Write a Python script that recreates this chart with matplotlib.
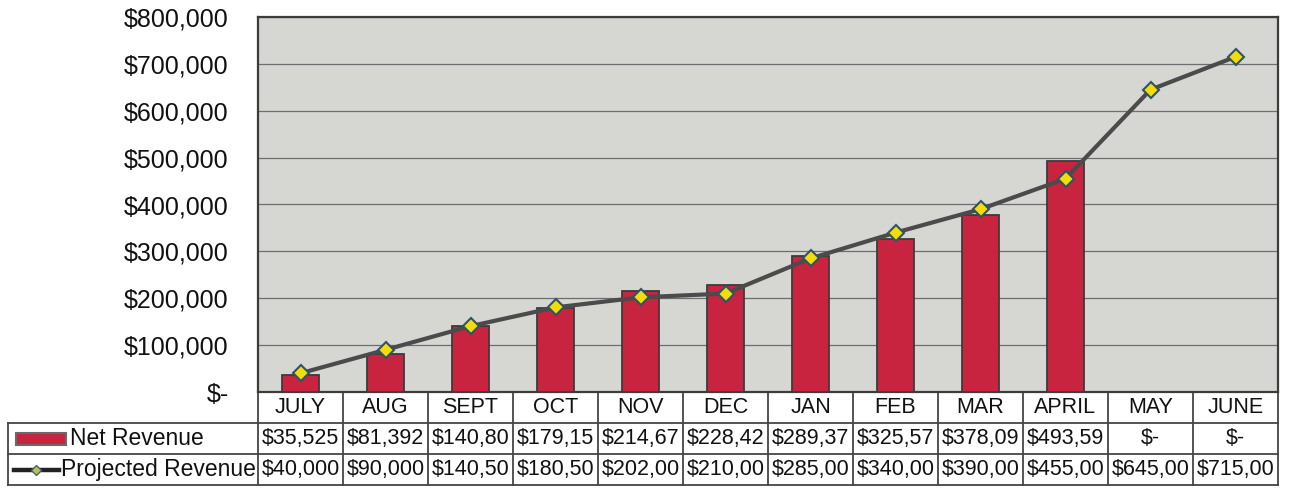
import numpy as np
import matplotlib
matplotlib.use("Agg")
import matplotlib.pyplot as plt
from matplotlib.ticker import FuncFormatter
from matplotlib.patches import Rectangle
from matplotlib.lines import Line2D

plt.rcParams['font.family'] = ['Liberation Sans', 'DejaVu Sans']

months = ['JULY', 'AUG', 'SEPT', 'OCT', 'NOV', 'DEC', 'JAN', 'FEB', 'MAR', 'APRIL', 'MAY', 'JUNE']
net_revenue = [35525, 81392, 140800, 179150, 214670, 228420, 289370, 325570, 378090, 493590, 0, 0]
projected_revenue = [40000, 90000, 140500, 180500, 202000, 210000, 285000, 340000, 390000, 455000, 645000, 715000]
series_names = ['Net Revenue', 'Projected Revenue']

BAR_COLOR = '#c8233f'
EDGE = '#3c3c3c'
LINE_COLOR = '#4b4b4b'
MARK_FACE = '#f2dc0a'
MARK_EDGE = '#2f5466'
TXT = '#111111'


def money(v):
    # excel cells were too narrow, so values get cut at 7 chars
    if v == 0:
        return '$-'
    return ('$' + format(int(v), ',d'))[:7]


fig = plt.figure(figsize=(12.89, 4.95), dpi=100)
ax = fig.add_axes([258 / 1289, 1 - 392 / 495, 1020 / 1289, 375 / 495])
ax.set_facecolor('#d6d6d3')

x = np.arange(len(months)) + 0.5
ax.bar(x, net_revenue, width=0.43, color=BAR_COLOR, edgecolor=EDGE, linewidth=1.3, zorder=3)
ax.plot(x, projected_revenue, color=LINE_COLOR, lw=3, marker='D', markersize=8.5,
        markerfacecolor=MARK_FACE, markeredgecolor=MARK_EDGE, markeredgewidth=1.5, zorder=4)

ax.set_xlim(0, len(months))
ax.set_ylim(0, 800000)
ax.set_yticks(np.arange(0, 800001, 100000))
ax.yaxis.set_major_formatter(FuncFormatter(lambda v, p: '$-' if v == 0 else '${:,.0f}'.format(v)))
ax.tick_params(axis='y', length=0, pad=21, labelsize=18, labelcolor=TXT)
ax.set_xticks([])
ax.grid(axis='y', color='#6e6e6e', lw=0.9, zorder=1)
for s in ax.spines.values():
    s.set_color(EDGE)
    s.set_linewidth(1.6)

# data table under the plot
row_h = 31 / 375
left = -250 / 1020
tr = ax.transAxes
lc = '#454545'
n = len(months)
rows = [months, [money(v) for v in net_revenue], [money(v) for v in projected_revenue]]

for r, vals in enumerate(rows):
    yc = -(r + 0.5) * row_h
    for i, txt in enumerate(vals):
        ax.text((i + 0.5) / n, yc, txt, transform=tr, ha='center', va='center',
                fontsize=15.5, color=TXT, clip_on=False)

# horizontal lines
for r in (1, 2, 3):
    ax.plot([left, 1], [-r * row_h, -r * row_h], transform=tr, color=lc, lw=1.3, clip_on=False)
# vertical lines
for i in range(n + 1):
    ax.plot([i / n, i / n], [0, -3 * row_h], transform=tr, color=lc, lw=1.3, clip_on=False)
ax.plot([left, left], [-row_h, -3 * row_h], transform=tr, color=lc, lw=1.3, clip_on=False)

# row labels with legend keys
ax.text(left + 62 / 1020, -1.5 * row_h, series_names[0], transform=tr, ha='left', va='center',
        fontsize=16.5, color=TXT, clip_on=False)
ax.text(left + 53 / 1020, -2.5 * row_h, series_names[1], transform=tr, ha='left', va='center',
        fontsize=16.5, color=TXT, clip_on=False)
ax.add_patch(Rectangle((left + 8 / 1020, -1.5 * row_h - 6 / 375), 50 / 1020, 12 / 375, transform=tr,
                       facecolor=BAR_COLOR, edgecolor='#6a6a6a', lw=1.5, clip_on=False))
ax.add_line(Line2D([left + 6 / 1020, left + 51 / 1020], [-2.5 * row_h] * 2, transform=tr,
                   color='#222222', lw=3.2, clip_on=False))
ax.add_line(Line2D([left + 28 / 1020], [-2.5 * row_h], transform=tr, marker='D', markersize=5.5,
                   markerfacecolor='#b8c060', markeredgecolor='#50606a', lw=0, clip_on=False))

fig.savefig('out.png', dpi=100)
